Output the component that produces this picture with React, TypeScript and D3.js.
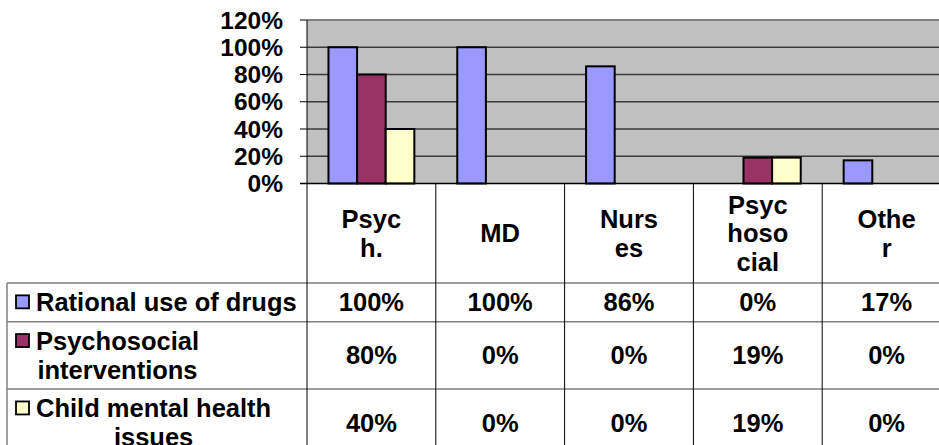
import React, { useEffect, useRef } from "react";
import * as d3 from "d3";

const categories = ["Psych.", "MD", "Nurses", "Psychosocial", "Other"];
const categoryLines = [["Psyc", "h."], ["MD"], ["Nurs", "es"], ["Psyc", "hoso", "cial"], ["Othe", "r"]];
const seriesNames = ["Rational use of drugs", "Psychosocial interventions", "Child mental health issues"];
const seriesLines = [["Rational use of drugs"], ["Psychosocial", "interventions"], ["Child mental health", "issues"]];
const rationalUse = [100, 100, 86, 0, 17];
const psychosocialInterventions = [80, 0, 0, 19, 0];
const childMentalHealth = [40, 0, 0, 19, 0];
const seriesColors = ["#9999FF", "#993366", "#FFFFCC"];
const yTicks = [0, 20, 40, 60, 80, 100, 120];

const seriesValues = [rationalUse, psychosocialInterventions, childMentalHealth];

export default function App() {
  const ref = useRef<SVGSVGElement | null>(null);

  useEffect(() => {
    const svg = d3.select(ref.current);
    svg.selectAll("*").remove();
    const font = "'Liberation Sans', Arial, sans-serif";
    const plotLeft = 307, plotTop = 20, plotBottom = 183.5;
    const catW = 128.8;
    const plotRight = plotLeft + catW * categories.length;

    const y = d3.scaleLinear().domain([0, 120]).range([plotBottom, plotTop]);
    const x = d3.scaleBand<string>().domain(categories).range([plotLeft, plotRight]).padding(0);
    const xs = d3.scaleBand<string>().domain(seriesNames).range([0, x.bandwidth()]).paddingInner(0).paddingOuter(0.75);

    // plot background
    svg.append("rect").attr("x", plotLeft).attr("y", plotTop).attr("width", plotRight - plotLeft)
      .attr("height", plotBottom - plotTop).attr("fill", "#C0C0C0");

    // gridlines
    yTicks.filter(t => t > 0 && t < 120).forEach(t => {
      svg.append("line").attr("x1", plotLeft).attr("x2", plotRight).attr("y1", y(t)).attr("y2", y(t))
        .attr("stroke", "#3a3a3a").attr("stroke-width", 1.3);
    });
    // top border
    svg.append("line").attr("x1", plotLeft).attr("x2", plotRight).attr("y1", y(120)).attr("y2", y(120))
      .attr("stroke", "#808080").attr("stroke-width", 2);

    // bars
    seriesValues.forEach((vals, si) => {
      vals.forEach((v, ci) => {
        if (v <= 0) return;
        const bx = (x(categories[ci]) as number) + (xs(seriesNames[si]) as number);
        svg.append("rect").attr("x", bx).attr("y", y(v)).attr("width", xs.bandwidth())
          .attr("height", plotBottom - y(v)).attr("fill", seriesColors[si])
          .attr("stroke", "#000").attr("stroke-width", 2);
      });
    });

    // y axis
    svg.append("line").attr("x1", plotLeft).attr("x2", plotLeft).attr("y1", plotTop).attr("y2", plotBottom)
      .attr("stroke", "#000").attr("stroke-width", 1);
    yTicks.forEach(t => {
      svg.append("line").attr("x1", plotLeft - 7).attr("x2", plotLeft).attr("y1", y(t)).attr("y2", y(t))
        .attr("stroke", "#000").attr("stroke-width", 1);
      svg.append("text").attr("x", 283).attr("y", y(t) + 8.5).attr("text-anchor", "end")
        .attr("font-family", font).attr("font-weight", "bold").attr("font-size", 24.5).attr("fill", "#000")
        .text(`${t}%`);
    });
    // x axis line
    svg.append("line").attr("x1", plotLeft - 7).attr("x2", plotRight).attr("y1", plotBottom).attr("y2", plotBottom)
      .attr("stroke", "#000").attr("stroke-width", 1.5);

    // table
    const headerBottom = 283;
    const lineH = 28.7;
    const rowTops: number[] = [];
    let cur = headerBottom;
    seriesLines.forEach(l => { rowTops.push(cur); cur += 10 + lineH * l.length; });
    const tableBottom = cur;

    rowTops.concat([tableBottom]).forEach(ry => {
      svg.append("line").attr("x1", 7).attr("x2", plotRight).attr("y1", ry).attr("y2", ry)
        .attr("stroke", "#808080").attr("stroke-width", 1.5);
    });
    svg.append("line").attr("x1", 7).attr("x2", 7).attr("y1", headerBottom).attr("y2", tableBottom)
      .attr("stroke", "#808080").attr("stroke-width", 1.5);
    categories.forEach(c => {
      const vx = x(c) as number;
      svg.append("line").attr("x1", vx).attr("x2", vx).attr("y1", plotBottom).attr("y2", tableBottom)
        .attr("stroke", "#000").attr("stroke-width", 1);
    });
    svg.append("line").attr("x1", plotRight).attr("x2", plotRight).attr("y1", plotTop).attr("y2", tableBottom)
      .attr("stroke", "#808080").attr("stroke-width", 1.5);

    const fs = 25.5;
    const capHalf = 9;
    categoryLines.forEach((lines, ci) => {
      const cx = (x(categories[ci]) as number) + x.bandwidth() / 2;
      const cy = (plotBottom + headerBottom) / 2;
      lines.forEach((ln, li) => {
        svg.append("text").attr("x", cx).attr("y", cy + (li - (lines.length - 1) / 2) * lineH + capHalf)
          .attr("text-anchor", "middle").attr("font-family", font).attr("font-weight", "bold")
          .attr("font-size", fs).attr("fill", "#000").text(ln);
      });
    });

    seriesLines.forEach((lines, si) => {
      const top = rowTops[si];
      const h = 10 + lineH * lines.length;
      const cy = top + h / 2;
      seriesValues[si].forEach((v, ci) => {
        const cx = (x(categories[ci]) as number) + x.bandwidth() / 2;
        svg.append("text").attr("x", cx).attr("y", cy + capHalf).attr("text-anchor", "middle")
          .attr("font-family", font).attr("font-weight", "bold").attr("font-size", fs).attr("fill", "#000")
          .text(`${v}%`);
      });
      const baselines = lines.map((_, li) => cy + (li - (lines.length - 1) / 2) * lineH + capHalf);
      const texts = lines.map((ln, li) => svg.append("text").attr("x", 36).attr("y", baselines[li])
        .attr("font-family", font).attr("font-weight", "bold").attr("font-size", fs).attr("fill", "#000").text(ln));
      const widths = texts.map(t => (t.node() as SVGTextElement).getComputedTextLength());
      const maxW = Math.max(...widths);
      texts.forEach(t => t.attr("x", 36 + maxW / 2).attr("text-anchor", "middle"));
      svg.append("rect").attr("x", 16).attr("y", baselines[0] - 16).attr("width", 13).attr("height", 13)
        .attr("fill", seriesColors[si]).attr("stroke", "#000").attr("stroke-width", 1.8);
    });
  }, []);

  return (
    <svg ref={ref} width={939} height={445} style={{ position: "absolute", left: 0, top: 0, background: "#fff" }} />
  );
}
